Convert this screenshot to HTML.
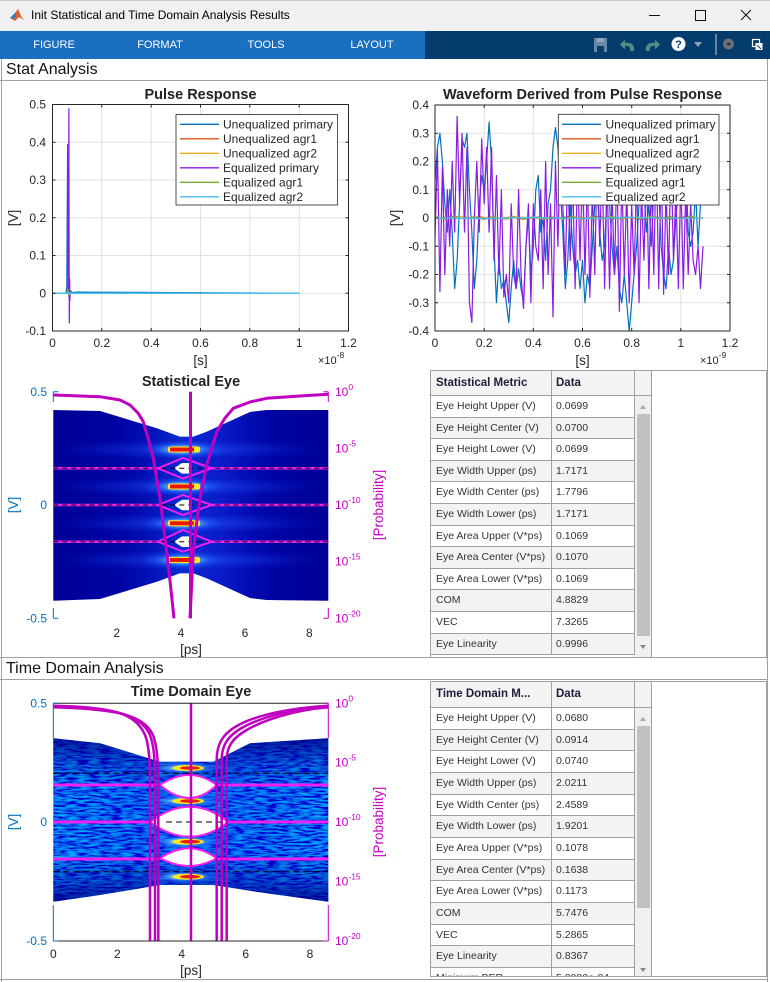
<!DOCTYPE html>
<html><head><meta charset="utf-8">
<style>
html,body{margin:0;padding:0;}
body{width:770px;height:982px;overflow:hidden;position:relative;background:#fff;font-family:"Liberation Sans",Arial,sans-serif;}
.abs{position:absolute;}
.tbl{position:absolute;left:430px;width:337px;border:1px solid #a0a0a0;background:#fff;overflow:hidden;box-sizing:border-box;}
.c{position:absolute;top:0;height:100%;box-sizing:border-box;border-right:1px solid #a0a0a0;border-bottom:1px solid #a0a0a0;padding-left:5px;white-space:nowrap;overflow:hidden;font-size:10.5px;color:#333;}
.r{position:absolute;left:0;width:204px;}
.g{background:#f3f3f3;}
.a{left:0;width:121px;}
.b{left:121px;width:83px;padding-left:4px;}
.h .c{font-weight:bold;font-size:11.5px;color:#1e1e3c;background:#f3f3f3;}
.trk{position:absolute;left:204px;width:17px;background:#f0f0f0;border-right:1px solid #a0a0a0;box-sizing:border-box;}
.th{position:absolute;left:206px;width:13px;background:#c1c1c1;}
.up{position:absolute;left:209px;width:0;height:0;border-left:3.5px solid transparent;border-right:3.5px solid transparent;border-bottom:4px solid #a8a8a8;}
.dn{position:absolute;left:209px;width:0;height:0;border-left:3.5px solid transparent;border-right:3.5px solid transparent;border-top:4px solid #888;}
.tb{position:absolute;top:31px;height:28px;line-height:29px;color:#fff;font-size:11px;text-align:center;width:80px;}
</style></head><body>

<!-- title bar -->
<div class="abs" style="left:0;top:0;width:770px;height:31px;background:#f0f0f0;border-top:1px solid #c8c8c8;box-sizing:border-box"></div>
<div class="abs" style="left:31px;top:8px;font-size:12px;color:#000;white-space:nowrap">Init Statistical and Time Domain Analysis Results</div>
<!-- toolbar -->
<div class="abs" style="left:0;top:31px;width:425px;height:28px;background:#1a6fc0"></div>
<div class="abs" style="left:425px;top:31px;width:345px;height:28px;background:#053c6e"></div>
<div class="tb" style="left:14px">FIGURE</div>
<div class="tb" style="left:120px">FORMAT</div>
<div class="tb" style="left:226px">TOOLS</div>
<div class="tb" style="left:332px">LAYOUT</div>

<!-- panel headers / borders -->
<div class="abs" style="left:6px;top:59px;height:21px;line-height:21px;font-size:16px;color:#111">Stat Analysis</div>
<div class="abs" style="left:6px;top:658px;height:21px;line-height:21px;font-size:16px;color:#111">Time Domain Analysis</div>
<div class="abs" style="left:0;top:80px;width:768px;height:1px;background:#a0a0a0"></div>
<div class="abs" style="left:0;top:657px;width:768px;height:1px;background:#a0a0a0"></div>
<div class="abs" style="left:0;top:679px;width:768px;height:1px;background:#a0a0a0"></div>
<div class="abs" style="left:1px;top:59px;width:1px;height:923px;background:#a0a0a0"></div>
<div class="abs" style="left:767px;top:59px;width:1px;height:923px;background:#a0a0a0"></div>
<div class="abs" style="left:0;top:979px;width:768px;height:1px;background:#a0a0a0"></div>

<svg class="abs" style="left:0;top:0" width="770" height="982" font-family="'Liberation Sans', Arial, sans-serif">
<defs>
<linearGradient id="cent" x1="0" x2="1" y1="0" y2="0">
<stop offset="0" stop-color="#0010c0" stop-opacity="0"/>
<stop offset="0.25" stop-color="#0010c8" stop-opacity="0.3"/>
<stop offset="0.47" stop-color="#1040f0" stop-opacity="0.7"/>
<stop offset="0.62" stop-color="#1030f0" stop-opacity="0.55"/>
<stop offset="0.8" stop-color="#0010c8" stop-opacity="0.25"/>
<stop offset="1" stop-color="#0010c0" stop-opacity="0"/>
</linearGradient>
<linearGradient id="vdark" x1="0" x2="0" y1="0" y2="1">
<stop offset="0" stop-color="#000080" stop-opacity="0.85"/>
<stop offset="0.15" stop-color="#000090" stop-opacity="0.35"/>
<stop offset="0.3" stop-color="#000090" stop-opacity="0"/>
<stop offset="0.7" stop-color="#000090" stop-opacity="0"/>
<stop offset="0.85" stop-color="#000090" stop-opacity="0.35"/>
<stop offset="1" stop-color="#000080" stop-opacity="0.85"/>
</linearGradient>
<radialGradient id="band">
<stop offset="0" stop-color="#2a60ff" stop-opacity="0.6"/>
<stop offset="0.6" stop-color="#1030e0" stop-opacity="0.3"/>
<stop offset="1" stop-color="#0000a0" stop-opacity="0"/>
</radialGradient>
<radialGradient id="glow">
<stop offset="0" stop-color="#b0ffff" stop-opacity="1"/>
<stop offset="0.35" stop-color="#60c0ff" stop-opacity="0.8"/>
<stop offset="0.7" stop-color="#2060ff" stop-opacity="0.4"/>
<stop offset="1" stop-color="#2060ff" stop-opacity="0"/>
</radialGradient>
<clipPath id="bt"><polygon points="53.3,410 100,411 156.7,428.3 180,436.7 193.3,436.7 206.7,431.7 250,412 266.7,410 328.3,410 328.3,600.7 266.7,600 250,598 206.7,578.3 193.3,573.3 180,573.3 156.7,581.7 100,599 53.3,600.7"/></clipPath>
<clipPath id="tdc"><polygon points="53.3,738.3 100,743.3 160,761.7 213.3,761.7 250,743.3 328.3,738.3 328.3,901.7 266.7,893.3 213.3,885 160,885 100,895 53.3,901.7"/></clipPath>
<filter id="noise" x="0" y="0" width="1" height="1" filterUnits="objectBoundingBox">
<feTurbulence type="fractalNoise" baseFrequency="0.09 0.55" numOctaves="2" seed="5"/>
<feColorMatrix type="matrix" values="0 0 0 0 0  1.3 0 0 0 -0.5  1.1 0 0 0 0.3  0 0 0 0 1"/>
</filter>
</defs>

<!-- title bar icons -->
<polygon points="10,18 15,13 18,9 21,16 24,20 19,17 15,21" fill="#e0602a"/>
<polygon points="10,18 15,13 16,17 13,19" fill="#2d7fc0"/>
<line x1="649" y1="15.5" x2="660" y2="15.5" stroke="#111" stroke-width="1"/>
<rect x="695.5" y="10.5" width="10" height="10" fill="none" stroke="#111" stroke-width="1"/>
<path d="M741,10 L751,20 M751,10 L741,20" stroke="#111" stroke-width="1"/>
<!-- toolbar icons -->
<rect x="594" y="38" width="13" height="14" fill="#6a87a8"/>
<rect x="597" y="38" width="7" height="4" fill="#8fa5c0"/>
<rect x="597" y="46" width="7" height="6" fill="#053c6e"/>
<path d="M634,51 C635,44 630,42 625,43 L625,39.5 L620,44.5 L625,49.5 L625,46 C629,45.5 631,47 630,51 Z" fill="#4f8f80"/>
<path d="M646,51 C645,44 650,42 655,43 L655,39.5 L660,44.5 L655,49.5 L655,46 C651,45.5 649,47 650,51 Z" fill="#4f8f80"/>
<circle cx="678.5" cy="44" r="7" fill="#fff"/>
<text x="678.5" y="48" font-size="11" font-weight="bold" fill="#053c6e" text-anchor="middle">?</text>
<polygon points="694,42 702,42 698,47" fill="#8fa0b8"/>
<line x1="716" y1="34" x2="716" y2="55" stroke="#8a9ab0" stroke-width="1.5"/>
<circle cx="728.5" cy="44" r="5.5" fill="#6b6f78"/>
<polygon points="726,43 731,43 728.5,46" fill="#2a2d33"/>
<rect x="752.5" y="39.5" width="7" height="7" fill="none" stroke="#fff" stroke-width="1.2"/>
<rect x="755.5" y="43" width="7" height="7" fill="#fff"/>
<path d="M757,45 L761,49" stroke="#053c6e" stroke-width="1"/>

<!-- ================= Pulse Response ================= -->
<path d="M101.8 104.5V331 M151.2 104.5V331 M200.5 104.5V331 M249.8 104.5V331 M299.2 104.5V331 M52.5 142.25H348.5 M52.5 180H348.5 M52.5 217.75H348.5 M52.5 255.5H348.5 M52.5 293.25H348.5" stroke="#e2e2e2" stroke-width="1" fill="none"/>
<g transform="translate(52.5,293.25) scale(246.67,-377.5)" fill="none">
<polyline vector-effect="non-scaling-stroke" stroke="#0072BD" stroke-width="1.2" points="0,0 0.055,0 0.058,0.02 0.0595,0.2 0.0612,0.395 0.0625,0.1 0.064,0.02 0.066,-0.01 0.07,0.008 0.08,0.002 0.1,0.003 1,0"/>
<polyline vector-effect="non-scaling-stroke" stroke="#D95319" stroke-width="1" points="0,0 0.06,0 0.063,0.01 0.066,-0.005 0.07,0 1,0"/>
<polyline vector-effect="non-scaling-stroke" stroke="#EDB120" stroke-width="1" points="0,0 0.06,0 0.064,0.008 0.067,-0.004 0.07,0 1,0"/>
<polyline vector-effect="non-scaling-stroke" stroke="#8a1be2" stroke-width="1.2" points="0,0 0.062,0 0.0645,0.04 0.0655,0.33 0.0665,0.49 0.0672,0.15 0.068,-0.08 0.0688,-0.05 0.0695,0.04 0.0705,-0.02 0.072,0 1,0"/>
<polyline vector-effect="non-scaling-stroke" stroke="#77AC30" stroke-width="1" points="0,0 0.062,0 0.065,0.01 0.068,-0.008 0.072,0 1,0"/>
<polyline vector-effect="non-scaling-stroke" stroke="#4DBEEE" stroke-width="1.6" points="0,0 1,0"/>
</g>
<rect x="52.5" y="104.5" width="296" height="226.5" fill="none" stroke="#262626" stroke-width="1"/>
<path d="M52.5 142.25h3 M52.5 180h3 M52.5 217.75h3 M52.5 255.5h3 M52.5 293.25h3 M348.5 142.25h-3 M348.5 180h-3 M348.5 217.75h-3 M348.5 255.5h-3 M348.5 293.25h-3 M101.8 331v-3 M151.2 331v-3 M200.5 331v-3 M249.8 331v-3 M299.2 331v-3 M101.8 104.5v3 M151.2 104.5v3 M200.5 104.5v3 M249.8 104.5v3 M299.2 104.5v3" stroke="#262626" stroke-width="1"/>
<g font-size="12" fill="#262626" text-anchor="end">
<text x="46" y="108.5">0.5</text><text x="46" y="146.3">0.4</text><text x="46" y="184">0.3</text><text x="46" y="221.8">0.2</text><text x="46" y="259.5">0.1</text><text x="46" y="297.3">0</text><text x="46" y="335">-0.1</text>
</g>
<g font-size="12" fill="#262626" text-anchor="middle">
<text x="52.5" y="347">0</text><text x="101.8" y="347">0.2</text><text x="151.2" y="347">0.4</text><text x="200.5" y="347">0.6</text><text x="249.8" y="347">0.8</text><text x="299.2" y="347">1</text><text x="348.5" y="347">1.2</text>
</g>
<text x="200.5" y="365" font-size="13.5" fill="#262626" text-anchor="middle">[s]</text>
<text x="318" y="364" font-size="11" fill="#262626">×10<tspan dy="-6" font-size="8.5">-8</tspan></text>
<text transform="translate(18,218) rotate(-90)" font-size="13.5" fill="#262626" text-anchor="middle">[V]</text>
<text x="200.5" y="99" font-size="14.5" font-weight="bold" fill="#222" text-anchor="middle">Pulse Response</text>
<!-- legend -->
<rect x="176" y="114.5" width="161.5" height="90.5" fill="#fff" stroke="#262626" stroke-width="0.8"/>
<g stroke-width="1.3">
<line x1="180" y1="124.3" x2="219" y2="124.3" stroke="#0072BD"/>
<line x1="180" y1="138.8" x2="219" y2="138.8" stroke="#D95319"/>
<line x1="180" y1="153.3" x2="219" y2="153.3" stroke="#EDB120"/>
<line x1="180" y1="167.8" x2="219" y2="167.8" stroke="#8a1be2"/>
<line x1="180" y1="182.3" x2="219" y2="182.3" stroke="#77AC30"/>
<line x1="180" y1="196.8" x2="219" y2="196.8" stroke="#4DBEEE"/>
</g>
<g font-size="12" fill="#262626">
<text x="223" y="128.5">Unequalized primary</text>
<text x="223" y="143">Unequalized agr1</text>
<text x="223" y="157.5">Unequalized agr2</text>
<text x="223" y="172">Equalized primary</text>
<text x="223" y="186.5">Equalized agr1</text>
<text x="223" y="201">Equalized agr2</text>
</g>

<!-- ================= Waveform ================= -->
<path d="M484.2 105V331 M533.3 105V331 M582.5 105V331 M631.7 105V331 M680.8 105V331 M435 133.25H730 M435 161.5H730 M435 189.75H730 M435 218H730 M435 246.25H730 M435 274.5H730 M435 302.75H730" stroke="#e2e2e2" stroke-width="1" fill="none"/>
<g transform="translate(435,218) scale(2.4583,-282.5)" fill="none" stroke-linejoin="round">
<polyline vector-effect="non-scaling-stroke" stroke="#0072BD" stroke-width="1.2" points="0,0.13 1,0.25 2,0.3 3,0.2 4,0.05 5,-0.05 6,0.1 7,-0.05 8,-0.25 9,-0.15 10,0.05 11,0.28 12,0.25 13,0.3 14,0.1 15,-0.05 16,-0.25 17,-0.15 18,0.05 19,0.15 20,0.1 21,0.2 22,0.34 23,0.2 24,-0.1 25,-0.3 26,-0.15 27,-0.25 28,-0.22 29,-0.3 30,-0.37 31,-0.25 32,-0.15 33,-0.25 34,-0.18 35,-0.25 36,-0.3 37,-0.1 38,0 39,-0.2 40,-0.1 41,0.1 42,0.15 43,-0.05 44,0 45,-0.15 46,0.05 47,0.1 48,0.25 49,0.32 50,0.25 51,0.1 52,-0.05 53,-0.25 54,-0.15 55,0.05 56,-0.1 57,-0.2 58,-0.15 59,-0.25 60,-0.15 61,-0.3 62,-0.2 63,-0.25 64,-0.1 65,0.05 66,0.1 67,-0.05 68,-0.15 69,-0.1 70,0.1 71,0.05 72,-0.1 73,-0.2 74,-0.1 75,-0.25 76,-0.3 77,-0.2 78,-0.3 79,-0.4 80,-0.3 81,-0.2 82,-0.1 83,0.05 84,0.15 85,0.1 86,-0.05 87,0.05 88,-0.1 89,0.1 90,0.2 91,0.1 92,-0.1 93,-0.2 94,-0.25 95,-0.1 96,-0.2 97,-0.15 98,0 99,0.1 100,0.25 101,0.15 102,0.2 103,-0.05 104,-0.1 105,-0.05 106,0.1 107,-0.1 108,0.05 109,0.18"/>
<polyline vector-effect="non-scaling-stroke" stroke="#D95319" stroke-width="1" points="0,0 6,0.004 12,-0.003 18,0.005 24,-0.004 30,0.003 36,-0.005 42,0.004 48,-0.003 54,0.005 60,-0.004 66,0.006 72,-0.003 78,0.004 84,-0.005 90,0.003 96,-0.004 102,0.005 109,0"/>
<polyline vector-effect="non-scaling-stroke" stroke="#EDB120" stroke-width="1" points="0,0.003 5,-0.004 11,0.006 17,-0.003 23,0.005 29,-0.005 35,0.004 41,-0.003 47,0.006 53,-0.004 59,0.003 65,-0.005 71,0.005 77,-0.003 83,0.004 89,-0.004 95,0.006 101,-0.003 109,0.002"/>
<polyline vector-effect="non-scaling-stroke" stroke="#8a1be2" stroke-width="1.2" points="0,-0.07 1,0.24 2,-0.26 3,0.18 4,-0.2 5,0.1 6,-0.1 7,0.2 8,-0.05 9,0.36 10,0.05 11,0.3 12,-0.05 13,0.25 14,-0.3 15,-0.37 16,0 17,0.2 18,-0.05 19,0.28 20,0.05 21,0.25 22,-0.05 23,0.25 24,-0.15 25,0.15 26,-0.2 27,0.1 28,-0.28 29,-0.2 30,-0.3 31,0.05 32,-0.2 33,-0.25 34,0.1 35,-0.2 36,-0.32 37,-0.1 38,0.05 39,-0.3 40,0.05 41,-0.1 42,-0.15 43,0.1 44,-0.25 45,0.2 46,-0.2 47,0.05 48,-0.35 49,0.2 50,-0.1 51,0.25 52,0.05 53,-0.2 54,0.2 55,-0.15 56,0.15 57,-0.25 58,0.2 59,-0.15 60,0.2 61,-0.2 62,0.15 63,-0.28 64,0.1 65,-0.2 66,0.25 67,-0.1 68,0.2 69,-0.25 70,0.15 71,-0.25 72,0.1 73,-0.2 74,0.2 75,-0.33 76,0.15 77,-0.2 78,0.1 79,-0.3 80,0.05 81,-0.2 82,0.15 83,-0.3 84,0.1 85,-0.15 86,0.2 87,-0.25 88,0.15 89,-0.2 90,0.25 91,-0.25 92,0.2 93,-0.27 94,0.1 95,-0.2 96,0.25 97,-0.15 98,0.1 99,-0.25 100,0.15 101,-0.25 102,0.1 103,-0.2 104,0.05 105,-0.15 106,-0.2 107,-0.1 108,-0.25 109,-0.1"/>
<polyline vector-effect="non-scaling-stroke" stroke="#77AC30" stroke-width="1" points="0,0.006 4,-0.004 8,0.007 12,-0.003 16,0.005 20,-0.006 24,0.004 28,-0.003 32,0.006 36,-0.004 40,0.005 44,-0.005 48,0.003 52,-0.004 56,0.006 60,-0.003 64,0.005 68,-0.004 72,0.006 76,-0.005 80,0.004 84,-0.003 88,0.006 92,-0.004 96,0.005 100,-0.003 104,0.006 109,-0.002"/>
<polyline vector-effect="non-scaling-stroke" stroke="#4DBEEE" stroke-width="1.3" points="0,0.001 20,-0.002 40,0.002 60,-0.002 80,0.002 100,-0.001 109,0"/>
</g>
<rect x="435" y="105" width="295" height="226" fill="none" stroke="#262626" stroke-width="1"/>
<path d="M435 133.25h3 M435 161.5h3 M435 189.75h3 M435 218h3 M435 246.25h3 M435 274.5h3 M435 302.75h3 M730 133.25h-3 M730 161.5h-3 M730 189.75h-3 M730 218h-3 M730 246.25h-3 M730 274.5h-3 M730 302.75h-3 M484.2 331v-3 M533.3 331v-3 M582.5 331v-3 M631.7 331v-3 M680.8 331v-3 M484.2 105v3 M533.3 105v3 M582.5 105v3 M631.7 105v3 M680.8 105v3" stroke="#262626" stroke-width="1"/>
<g font-size="12" fill="#262626" text-anchor="end">
<text x="429" y="109">0.4</text><text x="429" y="137.3">0.3</text><text x="429" y="165.5">0.2</text><text x="429" y="193.8">0.1</text><text x="429" y="222">0</text><text x="429" y="250.3">-0.1</text><text x="429" y="278.5">-0.2</text><text x="429" y="306.8">-0.3</text><text x="429" y="335">-0.4</text>
</g>
<g font-size="12" fill="#262626" text-anchor="middle">
<text x="435" y="347">0</text><text x="484.2" y="347">0.2</text><text x="533.3" y="347">0.4</text><text x="582.5" y="347">0.6</text><text x="631.7" y="347">0.8</text><text x="680.8" y="347">1</text><text x="730" y="347">1.2</text>
</g>
<text x="582.5" y="365" font-size="13.5" fill="#262626" text-anchor="middle">[s]</text>
<text x="700" y="364" font-size="11" fill="#262626">×10<tspan dy="-6" font-size="8.5">-9</tspan></text>
<text transform="translate(400,218) rotate(-90)" font-size="13.5" fill="#262626" text-anchor="middle">[V]</text>
<text x="582.5" y="99" font-size="14.5" font-weight="bold" fill="#222" text-anchor="middle">Waveform Derived from Pulse Response</text>
<rect x="558.3" y="114.3" width="160.7" height="90.7" fill="#fff" stroke="#262626" stroke-width="0.8"/>
<g stroke-width="1.3">
<line x1="562" y1="124.3" x2="601" y2="124.3" stroke="#0072BD"/>
<line x1="562" y1="138.8" x2="601" y2="138.8" stroke="#D95319"/>
<line x1="562" y1="153.3" x2="601" y2="153.3" stroke="#EDB120"/>
<line x1="562" y1="167.8" x2="601" y2="167.8" stroke="#8a1be2"/>
<line x1="562" y1="182.3" x2="601" y2="182.3" stroke="#77AC30"/>
<line x1="562" y1="196.8" x2="601" y2="196.8" stroke="#4DBEEE"/>
</g>
<g font-size="12" fill="#262626">
<text x="605.5" y="128.5">Unequalized primary</text>
<text x="605.5" y="143">Unequalized agr1</text>
<text x="605.5" y="157.5">Unequalized agr2</text>
<text x="605.5" y="172">Equalized primary</text>
<text x="605.5" y="186.5">Equalized agr1</text>
<text x="605.5" y="201">Equalized agr2</text>
</g>

<!-- ================= Statistical Eye ================= -->
<g clip-path="url(#bt)">
<rect x="53" y="405" width="276" height="200" fill="#000096"/>
<rect x="53" y="405" width="276" height="200" fill="url(#cent)"/>
<ellipse cx="190" cy="449.5" rx="150" ry="12" fill="url(#band)"/>
<ellipse cx="190" cy="486.5" rx="150" ry="12" fill="url(#band)"/>
<ellipse cx="190" cy="523.3" rx="150" ry="12" fill="url(#band)"/>
<ellipse cx="190" cy="560" rx="150" ry="12" fill="url(#band)"/>
<ellipse cx="183" cy="449.5" rx="40" ry="9" fill="url(#glow)"/>
<ellipse cx="183" cy="486.5" rx="40" ry="9" fill="url(#glow)"/>
<ellipse cx="183" cy="523.3" rx="40" ry="9" fill="url(#glow)"/>
<ellipse cx="183" cy="560" rx="40" ry="9" fill="url(#glow)"/>
</g>
<g>
<rect x="168" y="446.5" width="32" height="6" rx="2" fill="#ffe820"/><rect x="170" y="447.5" width="24" height="4" fill="#e81800"/>
<rect x="168" y="483.5" width="32" height="6" rx="2" fill="#ffe820"/><rect x="170" y="484.5" width="24" height="4" fill="#e81800"/>
<rect x="168" y="520.3" width="32" height="6" rx="2" fill="#ffe820"/><rect x="170" y="521.3" width="24" height="4" fill="#e81800"/>
<rect x="168" y="557" width="32" height="6" rx="2" fill="#ffe820"/><rect x="170" y="558" width="24" height="4" fill="#e81800"/>
</g>
<g fill="#fff">
<path d="M174,468.3 L182,463 L191,463 L191,473.6 L182,473.6 Z"/>
<path d="M174,505 L182,499.7 L191,499.7 L191,510.3 L182,510.3 Z"/>
<path d="M174,541.7 L182,536.4 L191,536.4 L191,547 L182,547 Z"/>
</g>
<g stroke="#f020f0" stroke-width="2.5" fill="none">
<path d="M53.3 468.3H160 M211.7 468.3H328.3 M53.3 505H160 M211.7 505H328.3 M53.3 541.7H160 M211.7 541.7H328.3"/>
</g>
<path d="M53.3 468.3H328.3 M53.3 505H328.3 M53.3 541.7H328.3" stroke="#000" stroke-width="1" stroke-dasharray="5 4" fill="none"/>
<g stroke="#f020f0" stroke-width="2" fill="none">
<polygon points="158,468.3 183,458 211.7,468.3 183,478.5"/>
<polygon points="158,505 183,495 211.7,505 183,515"/>
<polygon points="158,541.7 183,530 211.7,541.7 183,551.7"/>
</g>
<g stroke="#c000c0" stroke-width="3" fill="none" stroke-linejoin="round">
<polyline points="53.3,395 100,396.7 120,400 130,405 138,413 143.3,421.7 148,438 153.3,458.3 160,498.3 166.7,551.7 171,590 174,618.3"/>
<polyline points="190,618.3 193.3,551.7 197,520 200,498.3 206.7,465 216.7,431.7 225,418 233.3,408.3 250,402 266.7,398.3 300,396 328.3,394.3"/>
<line x1="190.5" y1="391.7" x2="190.5" y2="618.3"/>
</g>
<!-- axes -->
<path d="M53.3 391.7V402 M53.3 608V618.3 M53.3 391.7h5 M53.3 618.3h5" stroke="#0072BD" stroke-width="1" fill="none"/>
<path d="M328.3 391.7V402 M328.3 608V618.3 M328.3 391.7h-5 M328.3 618.3h-5" stroke="#c400c4" stroke-width="1" fill="none"/>
<g font-size="12" fill="#0072BD" text-anchor="end">
<text x="47" y="396">0.5</text><text x="47" y="509">0</text><text x="47" y="622.3">-0.5</text>
</g>
<g font-size="12" fill="#c400c4">
<text x="335" y="396">10<tspan dy="-6" font-size="8.5">0</tspan></text>
<text x="335" y="452.3">10<tspan dy="-6" font-size="8.5">-5</tspan></text>
<text x="335" y="509">10<tspan dy="-6" font-size="8.5">-10</tspan></text>
<text x="335" y="565.7">10<tspan dy="-6" font-size="8.5">-15</tspan></text>
<text x="335" y="622.3">10<tspan dy="-6" font-size="8.5">-20</tspan></text>
</g>
<g font-size="12" fill="#262626" text-anchor="middle">
<text x="116.7" y="637">2</text><text x="181" y="637">4</text><text x="245" y="637">6</text><text x="309.3" y="637">8</text>
</g>
<text x="191" y="654" font-size="13.5" fill="#262626" text-anchor="middle">[ps]</text>
<text transform="translate(18,505) rotate(-90)" font-size="13.5" fill="#0072BD" text-anchor="middle">[V]</text>
<text transform="translate(383,505) rotate(-90)" font-size="13.5" fill="#c400c4" text-anchor="middle">[Probability]</text>
<text x="191" y="386" font-size="14.5" font-weight="bold" fill="#222" text-anchor="middle">Statistical Eye</text>

<!-- ================= Time Domain Eye ================= -->
<g clip-path="url(#tdc)">
<rect x="53" y="736" width="276" height="168" fill="#0018b0" filter="url(#noise)"/>
<rect x="53" y="736" width="276" height="168" fill="url(#cent)" opacity="0.5"/>
<rect x="53" y="736" width="276" height="168" fill="url(#vdark)"/>
<ellipse cx="185" cy="768" rx="42" ry="7" fill="url(#glow)"/>
<ellipse cx="185" cy="801" rx="42" ry="7" fill="url(#glow)"/>
<ellipse cx="185" cy="841.7" rx="42" ry="7" fill="url(#glow)"/>
<ellipse cx="185" cy="876.7" rx="42" ry="7" fill="url(#glow)"/>
</g>
<g>
<ellipse cx="188" cy="768" rx="16" ry="3" fill="#ffe820"/><ellipse cx="190" cy="768" rx="10" ry="1.8" fill="#e82000"/>
<ellipse cx="188" cy="801" rx="16" ry="3" fill="#ffe820"/><ellipse cx="190" cy="801" rx="10" ry="1.8" fill="#e82000"/>
<ellipse cx="188" cy="841.7" rx="16" ry="3" fill="#ffe820"/><ellipse cx="190" cy="841.7" rx="10" ry="1.8" fill="#e82000"/>
<ellipse cx="188" cy="876.7" rx="16" ry="3" fill="#ffe820"/><ellipse cx="190" cy="876.7" rx="10" ry="1.8" fill="#e82000"/>
</g>
<g fill="#fff" stroke="#f020f0" stroke-width="2">
<path d="M160,785 Q190,765 216.7,785 Q190,811 160,785Z"/>
<path d="M150,822 Q190,791.4 228.3,822 Q190,851.4 150,822Z"/>
<path d="M160,858.3 Q190,838.3 216.7,858.3 Q190,873.7 160,858.3Z"/>
</g>
<path d="M53.3 785H160 M216.7 785H328.3 M53.3 822H150 M228.3 822H328.3 M53.3 859H160 M216.7 859H328.3" stroke="#f020f0" stroke-width="3" fill="none"/>
<path d="M53.3 773.3H328.3 M53.3 871.7H328.3 M166 822H227" stroke="#000" stroke-width="1" stroke-dasharray="6 4" fill="none"/>
<g stroke="#c000c0" stroke-width="2.5" fill="none">
<path d="M53.3,705.7 C110,707 135,712 145,735 C149,745 150,760 150,780 L150,941"/>
<path d="M53.3,706.5 C112,708 140,713 150,735 C154,746 155,760 155,780 L155,941"/>
<path d="M53.3,707.3 C114,709 143,714 153,735 C157,746 158.3,760 158.3,780 L158.3,941"/>
<path d="M216.7,941 L216.7,760 C216.7,745 222,735 235,727 C255,715 290,708 328.3,705.7"/>
<path d="M221.7,941 L221.7,760 C221.7,746 227,737 240,729 C260,717 293,709 328.3,706.5"/>
<path d="M226.7,941 L226.7,760 C226.7,747 232,739 245,731 C265,719 296,710 328.3,707.3"/>
<line x1="191" y1="703.3" x2="191" y2="941"/>
</g>
<path d="M53.3 703.3H328.3 M53.3 941H328.3" stroke="#262626" stroke-width="1" fill="none"/>
<path d="M53.3 703.3V738 M53.3 905V941 M53.3 703.3h5 M53.3 941h5" stroke="#0072BD" stroke-width="1" fill="none"/>
<path d="M328.3 703.3V738 M328.3 905V941 M328.3 703.3h-5 M328.3 941h-5" stroke="#c400c4" stroke-width="1" fill="none"/>
<g font-size="12" fill="#0072BD" text-anchor="end">
<text x="47" y="707.3">0.5</text><text x="47" y="826">0</text><text x="47" y="945">-0.5</text>
</g>
<g font-size="12" fill="#c400c4">
<text x="335" y="707.3">10<tspan dy="-6" font-size="8.5">0</tspan></text>
<text x="335" y="766.7">10<tspan dy="-6" font-size="8.5">-5</tspan></text>
<text x="335" y="826">10<tspan dy="-6" font-size="8.5">-10</tspan></text>
<text x="335" y="885.4">10<tspan dy="-6" font-size="8.5">-15</tspan></text>
<text x="335" y="945">10<tspan dy="-6" font-size="8.5">-20</tspan></text>
</g>
<g font-size="12" fill="#262626" text-anchor="middle">
<text x="53.3" y="958">0</text><text x="117.3" y="958">2</text><text x="181.7" y="958">4</text><text x="245.7" y="958">6</text><text x="310" y="958">8</text>
</g>
<text x="191" y="975" font-size="13.5" fill="#262626" text-anchor="middle">[ps]</text>
<text transform="translate(18,822) rotate(-90)" font-size="13.5" fill="#0072BD" text-anchor="middle">[V]</text>
<text transform="translate(383,822) rotate(-90)" font-size="13.5" fill="#c400c4" text-anchor="middle">[Probability]</text>
<text x="191" y="696" font-size="14.5" font-weight="bold" fill="#222" text-anchor="middle">Time Domain Eye</text>
</svg>

<!-- ================= Table 1 ================= -->
<div class="tbl" style="top:370px;height:288px">
<div class="r h" style="top:0;height:25px;width:221px"><span class="c a" style="line-height:24px">Statistical Metric</span><span class="c b" style="line-height:24px">Data</span><span class="c" style="left:204px;width:17px;padding:0"></span></div>
<div class="r" style="top:25px;height:21.6px"><span class="c a" style="line-height:21px">Eye Height Upper (V)</span><span class="c b" style="line-height:21px">0.0699</span></div>
<div class="r g" style="top:46.6px;height:21.6px"><span class="c a" style="line-height:21px">Eye Height Center (V)</span><span class="c b" style="line-height:21px">0.0700</span></div>
<div class="r" style="top:68.2px;height:21.6px"><span class="c a" style="line-height:21px">Eye Height Lower (V)</span><span class="c b" style="line-height:21px">0.0699</span></div>
<div class="r g" style="top:89.8px;height:21.6px"><span class="c a" style="line-height:21px">Eye Width Upper (ps)</span><span class="c b" style="line-height:21px">1.7171</span></div>
<div class="r" style="top:111.4px;height:21.6px"><span class="c a" style="line-height:21px">Eye Width Center (ps)</span><span class="c b" style="line-height:21px">1.7796</span></div>
<div class="r g" style="top:133px;height:21.6px"><span class="c a" style="line-height:21px">Eye Width Lower (ps)</span><span class="c b" style="line-height:21px">1.7171</span></div>
<div class="r" style="top:154.6px;height:21.6px"><span class="c a" style="line-height:21px">Eye Area Upper (V*ps)</span><span class="c b" style="line-height:21px">0.1069</span></div>
<div class="r g" style="top:176.2px;height:21.6px"><span class="c a" style="line-height:21px">Eye Area Center (V*ps)</span><span class="c b" style="line-height:21px">0.1070</span></div>
<div class="r" style="top:197.8px;height:21.6px"><span class="c a" style="line-height:21px">Eye Area Lower (V*ps)</span><span class="c b" style="line-height:21px">0.1069</span></div>
<div class="r g" style="top:219.4px;height:21.6px"><span class="c a" style="line-height:21px">COM</span><span class="c b" style="line-height:21px">4.8829</span></div>
<div class="r" style="top:241px;height:21.6px"><span class="c a" style="line-height:21px">VEC</span><span class="c b" style="line-height:21px">7.3265</span></div>
<div class="r g" style="top:262.6px;height:21.6px"><span class="c a" style="line-height:21px">Eye Linearity</span><span class="c b" style="line-height:21px">0.9996</span></div>
<div class="trk" style="top:25px;height:261px"></div>
<div class="th" style="top:43px;height:222px"></div>
<div class="up" style="top:34px"></div>
<div class="dn" style="top:274px"></div>
</div>

<!-- ================= Table 2 ================= -->
<div class="tbl" style="top:681px;height:296px">
<div class="r h" style="top:0;height:26px;width:221px"><span class="c a" style="line-height:25px">Time Domain M...</span><span class="c b" style="line-height:25px">Data</span><span class="c" style="left:204px;width:17px;padding:0"></span></div>
<div class="r" style="top:26px;height:21.67px"><span class="c a" style="line-height:21px">Eye Height Upper (V)</span><span class="c b" style="line-height:21px">0.0680</span></div>
<div class="r g" style="top:47.67px;height:21.67px"><span class="c a" style="line-height:21px">Eye Height Center (V)</span><span class="c b" style="line-height:21px">0.0914</span></div>
<div class="r" style="top:69.34px;height:21.67px"><span class="c a" style="line-height:21px">Eye Height Lower (V)</span><span class="c b" style="line-height:21px">0.0740</span></div>
<div class="r g" style="top:91px;height:21.67px"><span class="c a" style="line-height:21px">Eye Width Upper (ps)</span><span class="c b" style="line-height:21px">2.0211</span></div>
<div class="r" style="top:112.7px;height:21.67px"><span class="c a" style="line-height:21px">Eye Width Center (ps)</span><span class="c b" style="line-height:21px">2.4589</span></div>
<div class="r g" style="top:134.35px;height:21.67px"><span class="c a" style="line-height:21px">Eye Width Lower (ps)</span><span class="c b" style="line-height:21px">1.9201</span></div>
<div class="r" style="top:156px;height:21.67px"><span class="c a" style="line-height:21px">Eye Area Upper (V*ps)</span><span class="c b" style="line-height:21px">0.1078</span></div>
<div class="r g" style="top:177.7px;height:21.67px"><span class="c a" style="line-height:21px">Eye Area Center (V*ps)</span><span class="c b" style="line-height:21px">0.1638</span></div>
<div class="r" style="top:199.4px;height:21.67px"><span class="c a" style="line-height:21px">Eye Area Lower (V*ps)</span><span class="c b" style="line-height:21px">0.1173</span></div>
<div class="r g" style="top:221px;height:21.67px"><span class="c a" style="line-height:21px">COM</span><span class="c b" style="line-height:21px">5.7476</span></div>
<div class="r" style="top:242.7px;height:21.67px"><span class="c a" style="line-height:21px">VEC</span><span class="c b" style="line-height:21px">5.2865</span></div>
<div class="r g" style="top:264.4px;height:21.67px"><span class="c a" style="line-height:21px">Eye Linearity</span><span class="c b" style="line-height:21px">0.8367</span></div>
<div class="r" style="top:286px;height:21.67px"><span class="c a" style="line-height:21px">Minimum BER</span><span class="c b" style="line-height:21px">5.0000e-04</span></div>
<div class="trk" style="top:26px;height:270px"></div>
<div class="th" style="top:44px;height:182px"></div>
<div class="up" style="top:35px"></div>
<div class="dn" style="top:286px"></div>
</div>

</body></html>
